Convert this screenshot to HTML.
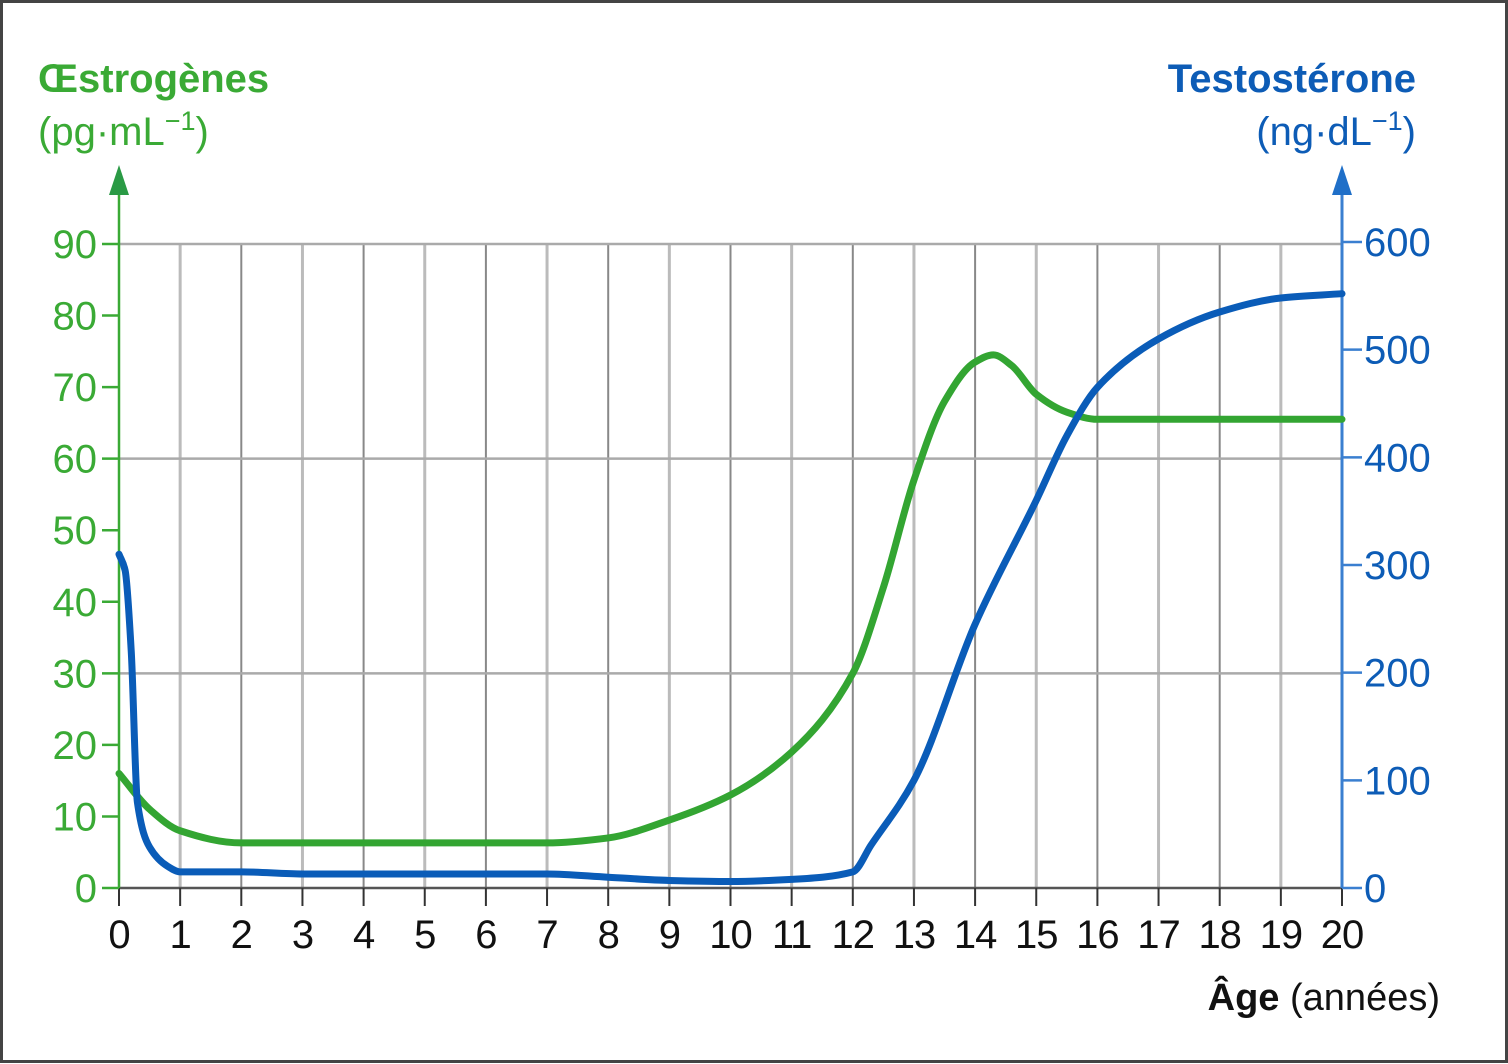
<!DOCTYPE html>
<html><head><meta charset="utf-8"><style>
html,body{margin:0;padding:0;background:#fff;}
svg{display:block;}
text{font-family:"Liberation Sans",sans-serif;}
</style></head><body>
<svg id="chart" width="1508" height="1064" viewBox="0 0 1508 1064">
<rect x="1.5" y="1.5" width="1505" height="1060" fill="#fff" stroke="#444" stroke-width="3"/>
<g id="grid"></g>
<g id="axes"></g>
<g id="series"></g>
<text x="38" y="92" font-size="40" font-weight="bold" fill="#3aaa35">Œstrogènes</text>
<text x="38" y="145" font-size="40" fill="#3aaa35">(pg·mL<tspan dy="-15" font-size="27">−1</tspan><tspan dy="15">)</tspan></text>
<text x="1416" y="92" font-size="40" font-weight="bold" fill="#0d5cb6" text-anchor="end">Testostérone</text>
<text x="1416" y="145" font-size="40" fill="#0d5cb6" text-anchor="end">(ng·dL<tspan dy="-15" font-size="27">−1</tspan><tspan dy="15">)</tspan></text>
<text x="1440" y="1010" font-size="38" fill="#111" text-anchor="end"><tspan font-weight="bold">Âge</tspan> (années)</text>
</svg>
<script>
const ages=[0,0.5,1,2,3,4,5,6,7,8,9,10,11,12,12.5,13,13.5,14,14.3,14.6,15,15.5,16,17,18,19,20];
const estrogen=[16,11,8,6.3,6.3,6.3,6.3,6.3,6.3,7,9.5,13,19,30,42,57,68,73.5,74.5,73,69,66.5,65.5,65.5,65.5,65.5,65.5];
const tAges=[0,0.1,0.2,0.3,0.5,0.8,1,2,3,4,5,6,7,8,9,10,11,12,12.3,13,14,15,15.5,16,17,18,19,20];
const testosterone=[310,295,220,80,38,20,15,15,13,13,13,13,13,10,7,6,8,15,40,100,245,360,420,465,510,535,548,552];
const leftTicks=[0,10,20,30,40,50,60,70,80,90];
const rightTicks=[0,100,200,300,400,500,600];
const xTicks=[0,1,2,3,4,5,6,7,8,9,10,11,12,13,14,15,16,17,18,19,20];
const X0=119,X1=1342,Y0=888;
const x=a=>X0+(X1-X0)*a/20;
const yL=v=>Y0-(Y0-244)*v/90;
const yR=v=>Y0-(Y0-242)*v/600;
const NS="http://www.w3.org/2000/svg";
function mk(parent,tag,attrs){const e=document.createElementNS(NS,tag);for(const k in attrs)e.setAttribute(k,attrs[k]);document.getElementById(parent).appendChild(e);return e;}
xTicks.forEach(t=>{if(t===0||t===20)return;
 const e=mk('grid','line',{x1:x(t),x2:x(t),y1:244,y2:888,stroke:t%2?'#bbb':'#888','stroke-width':t%2?3:2});
 
 });
[90,60,30].forEach(v=>{const e=mk('grid','line',{x1:X0,x2:X1,y1:yL(v),y2:yL(v),stroke:'#aaa','stroke-width':2.5});
 
 });
let e=mk('axes','line',{x1:X0,x2:X1,y1:Y0,y2:Y0,stroke:'#555','stroke-width':2.5});


xTicks.forEach(t=>{
 const l=mk('axes','line',{x1:x(t),x2:x(t),y1:Y0,y2:Y0+18,stroke:'#333','stroke-width':2});
 
 
 const tx=mk('axes','text',{x:x(t),y:948,'font-size':40,fill:'#111','text-anchor':'middle','letter-spacing':'-1'});
 tx.textContent=t;
 
 });
e=mk('axes','line',{x1:X0,x2:X0,y1:190,y2:Y0,stroke:'#3aaa35','stroke-width':2.5});


e=mk('axes','path',{d:`M${X0-10},195 L${X0},165 L${X0+10},195 Z`,fill:'#2a9a45'});


leftTicks.forEach(v=>{
 const l=mk('axes','line',{x1:X0-17,x2:X0,y1:yL(v),y2:yL(v),stroke:'#3aaa35','stroke-width':2.5});
 
 
 const tx=mk('axes','text',{x:X0-22,y:yL(v)+14,'font-size':40,fill:'#3aaa35','text-anchor':'end'});
 tx.textContent=v;
 
 });
e=mk('axes','line',{x1:X1,x2:X1,y1:190,y2:Y0,stroke:'#3a7fd0','stroke-width':3});


e=mk('axes','path',{d:`M${X1-10},195 L${X1},165 L${X1+10},195 Z`,fill:'#1f6fc8'});


rightTicks.forEach(v=>{
 const l=mk('axes','line',{x1:X1,x2:X1+20,y1:yR(v),y2:yR(v),stroke:'#3a7fd0','stroke-width':2.5});
 
 
 const tx=mk('axes','text',{x:X1+22,y:yR(v)+14,'font-size':40,fill:'#0d5cb6'});
 tx.textContent=v;
 
 });
function monotone(pts){
 const n=pts.length,dx=[],s=[],m=[];
 for(let i=0;i<n-1;i++){dx[i]=pts[i+1][0]-pts[i][0];s[i]=(pts[i+1][1]-pts[i][1])/dx[i];}
 m[0]=s[0];m[n-1]=s[n-2];
 for(let i=1;i<n-1;i++){m[i]=(s[i-1]*s[i]<=0)?0:(dx[i-1]+dx[i])*3/((2*dx[i]+dx[i-1])/s[i-1]+(dx[i]+2*dx[i-1])/s[i]);}
 let d=`M${pts[0][0]},${pts[0][1]}`;
 for(let i=0;i<n-1;i++){const h=dx[i]/3;
  d+=` C${pts[i][0]+h},${pts[i][1]+m[i]*h} ${pts[i+1][0]-h},${pts[i+1][1]-m[i+1]*h} ${pts[i+1][0]},${pts[i+1][1]}`;}
 return d;}
e=mk('series','path',{d:monotone(ages.map((a,i)=>[x(a),yL(estrogen[i])])),fill:'none',stroke:'#33a532','stroke-width':7,'stroke-linejoin':'round','stroke-linecap':'round'});


e=mk('series','path',{d:monotone(tAges.map((a,i)=>[x(a),yR(testosterone[i])])),fill:'none',stroke:'#0a5cb8','stroke-width':7,'stroke-linejoin':'round','stroke-linecap':'round'});


</script>
</body></html>
